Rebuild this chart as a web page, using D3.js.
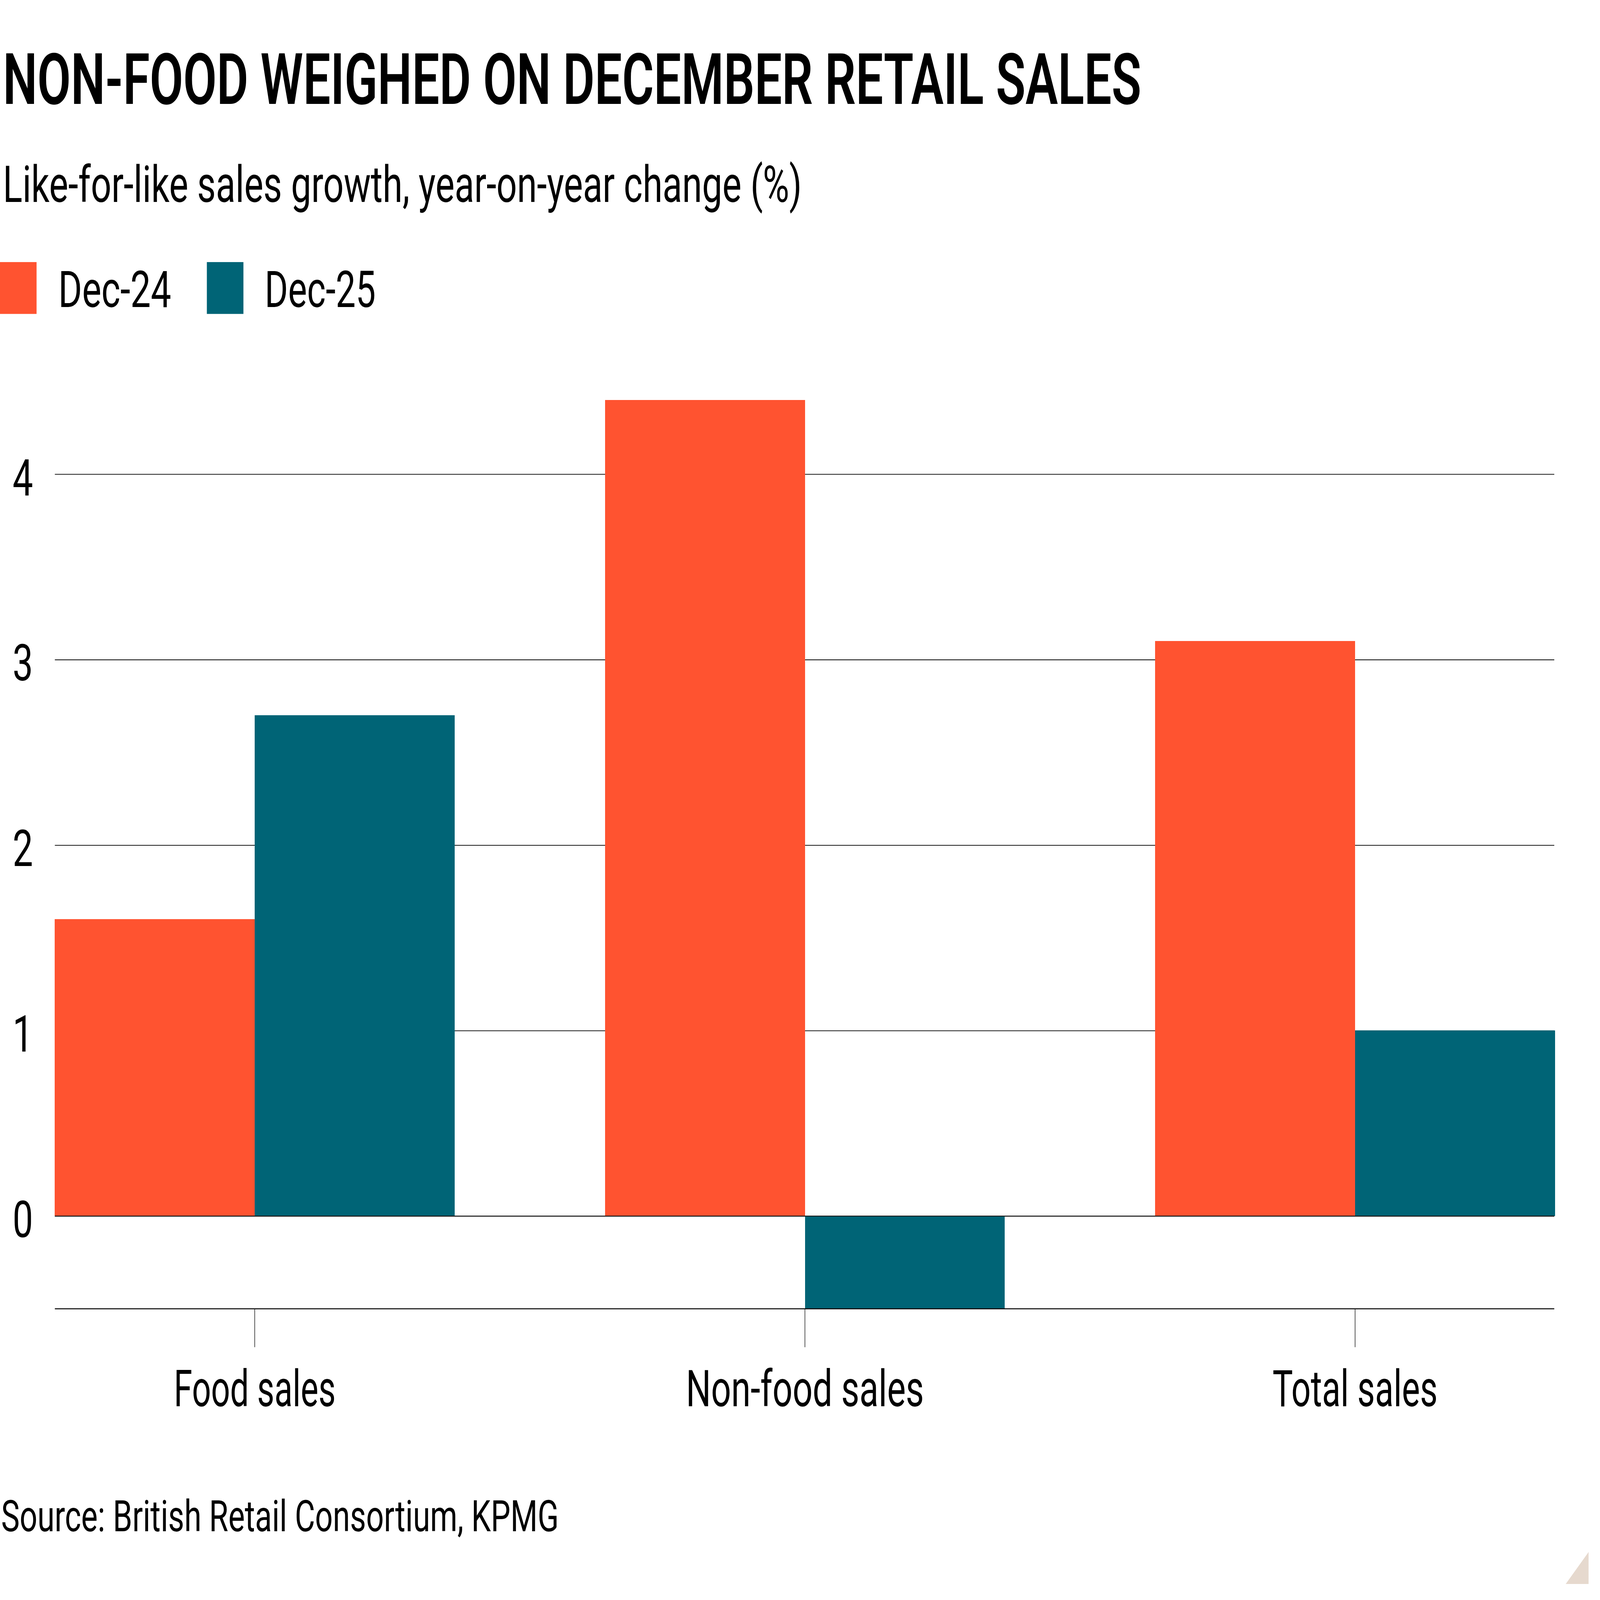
<!DOCTYPE html>
<html>
<head>
<meta charset="utf-8">
<script src="https://cdn.jsdelivr.net/npm/d3@7"></script>
<style>
  html, body { margin: 0; padding: 0; background: #ffffff; width: 100%; height: 100%; overflow: hidden; }
  svg { display: block; width: 100vw; height: 100vh; }
  text { font-family: Roboto, "Open Sans", "DejaVu Sans", sans-serif; fill: #000; }
</style>
</head>
<body>
<svg id="chart" viewBox="0 0 7000 5000" preserveAspectRatio="none"></svg>
<script>
// ---- data ----
const titleText = "NON-FOOD WEIGHED ON DECEMBER RETAIL SALES";
const subtitleText = "Like-for-like sales growth, year-on-year change (%)";
const sourceText = "Source: British Retail Consortium, KPMG";
const categories = ["Food sales", "Non-food sales", "Total sales"];
const seriesNames = ["Dec-24", "Dec-25"];
const dec24 = [1.6, 4.4, 3.1];
const dec25 = [2.7, -0.5, 1.0];
const yTicks = [0, 1, 2, 3, 4];
const yDomain = [-0.5, 4.4];

// ---- layout ----
const W = 7000, H = 5000;
const plotLeft = 240, plotRight = 6803, gridRight = 6800;
const plotTop = 1250, plotBottom = 4090;
const colors = {"Dec-24": "#ff5330", "Dec-25": "#006476"};

const svg = d3.select("#chart");
svg.append("rect").attr("width", W).attr("height", H).attr("fill", "#ffffff");

function fit(sel, w) {
  sel.attr("textLength", w).attr("lengthAdjust", "spacingAndGlyphs");
  return sel;
}

// Title, subtitle
fit(svg.append("text").attr("x", 13).attr("y", 325)
  .attr("font-size", 221).attr("font-weight", 600).text(titleText), 4980);
fit(svg.append("text").attr("x", 13).attr("y", 631)
  .attr("font-size", 159).text(subtitleText), 3495);

// Legend
const legendItems = [
  {name: seriesNames[0], sx: 0, tx: 255, tw: 494},
  {name: seriesNames[1], sx: 905, tx: 1158, tw: 486}
];
legendItems.forEach(d => {
  svg.append("rect").attr("x", d.sx).attr("y", 819).attr("width", 160).attr("height", 162)
    .attr("fill", colors[d.name]);
  fit(svg.append("text").attr("x", d.tx).attr("y", 960).attr("font-size", 158).text(d.name), d.tw);
});

// Scales
const y = d3.scaleLinear().domain(yDomain).range([plotBottom, plotTop]);
const x0 = d3.scaleBand().domain(categories).range([plotLeft, plotRight])
  .paddingInner(0.2734).paddingOuter(0);
const x1 = d3.scaleBand().domain(seriesNames).range([0, x0.bandwidth()]).padding(0);

// Y axis / gridlines
const yAxis = d3.axisLeft(y).tickValues(yTicks).tickFormat(d3.format("d"))
  .tickSize(-(gridRight - plotLeft)).tickSizeOuter(0);
const gy = svg.append("g").attr("transform", `translate(${plotLeft},0)`).call(yAxis);
gy.select(".domain").remove();
gy.selectAll(".tick line").attr("stroke", "#1a1a1a").attr("stroke-width", 2.5);
gy.selectAll(".tick text")
  .attr("x", 55 - plotLeft).attr("dy", 0).attr("y", 65)
  .attr("text-anchor", "start")
  .attr("font-size", 159)
  .attr("font-family", 'Roboto, "Open Sans", sans-serif')
  .attr("fill", "#000");

// Bars
const rows = categories.map((c, i) => ({cat: c, values: [
  {name: seriesNames[0], v: dec24[i]},
  {name: seriesNames[1], v: dec25[i]}
]}));
const groups = svg.append("g").selectAll("g").data(rows).join("g")
  .attr("transform", d => `translate(${x0(d.cat)},0)`);
groups.selectAll("rect").data(d => d.values).join("rect")
  .attr("x", d => x1(d.name))
  .attr("width", x1.bandwidth())
  .attr("y", d => y(Math.max(0, d.v)))
  .attr("height", d => Math.abs(y(d.v) - y(0)))
  .attr("fill", d => colors[d.name])
  .attr("shape-rendering", "crispEdges");

// Zero line
svg.append("line").attr("x1", plotLeft).attr("x2", gridRight)
  .attr("y1", y(0)).attr("y2", y(0)).attr("stroke", "#1a1a1a").attr("stroke-width", 2.5);

// X axis
const xAxis = d3.axisBottom(x0).tickSize(120).tickSizeOuter(0);
const gx = svg.append("g").attr("transform", `translate(0,${plotBottom})`).call(xAxis);
gx.select(".domain").attr("stroke", "#000").attr("stroke-width", 3)
  .attr("d", `M${plotLeft},0H${gridRight}`);
gx.selectAll(".tick line").attr("stroke", "#1a1a1a").attr("stroke-width", 2.5);
const labelWidths = {"Food sales": 708, "Non-food sales": 1041, "Total sales": 722};
gx.selectAll(".tick text")
  .attr("y", 304).attr("dy", 0)
  .attr("font-size", 159)
  .attr("font-family", 'Roboto, "Open Sans", sans-serif')
  .attr("fill", "#000")
  .each(function(d) { fit(d3.select(this), labelWidths[d]); });

// Source
fit(svg.append("text").attr("x", 5).attr("y", 4785).attr("font-size", 137).text(sourceText), 2440);

// Corner mark
svg.append("path").attr("d", "M6850,4950L6950,4850L6950,4950Z").attr("fill", "#e6d9ce");
</script>
</body>
</html>
